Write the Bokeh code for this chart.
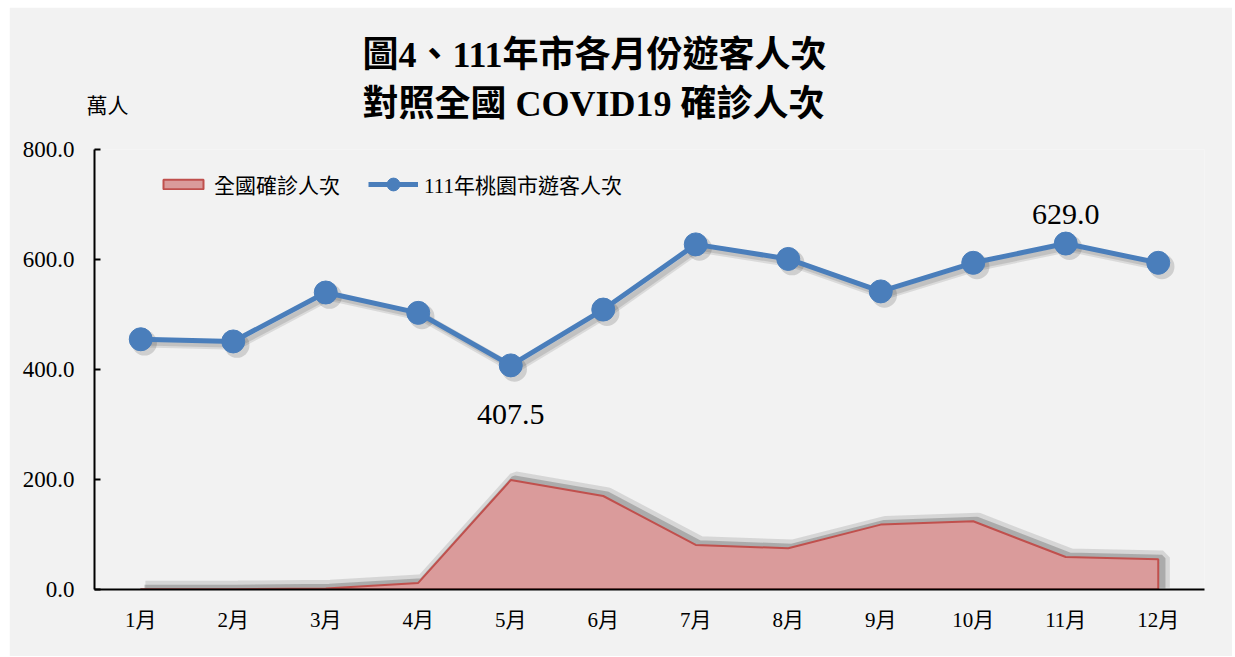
from bokeh.plotting import figure
from bokeh.models import (ColumnDataSource, FixedTicker, NumeralTickFormatter, Legend,
                          LegendItem, Title, LabelSet, Range1d)
from bokeh.embed import file_html
from bokeh.resources import INLINE

months = ["1月", "2月", "3月", "4月", "5月", "6月", "7月", "8月", "9月", "10月", "11月", "12月"]
visitors = [455.0, 451.0, 540.0, 503.0, 407.5, 509.0, 627.5, 601.0, 542.0, 594.0, 629.0, 594.0]
covid = [0.3, 0.5, 2.0, 12.0, 199.0, 170.0, 81.0, 75.0, 118.0, 124.0, 59.0, 55.0]
y_ticks = [0, 200, 400, 600, 800]

title_1 = "圖4、111年市各月份遊客人次"
title_2 = "對照全國 COVID19 確診人次"
unit_label = "萬人"
name_covid = "全國確診人次"
name_visit = "111年桃園市遊客人次"

SERIF = "Liberation Serif, Noto Sans CJK TC"
BG = "#f2f2f2"
BLUE = "#4a7ebb"
RED_LINE = "#c0504d"
RED_FILL = "#da9b9b"

x = list(range(1, len(months) + 1))

p = figure(width=1223, height=649, output_backend="svg", toolbar_location=None,
           x_range=Range1d(0.5, 12.5), y_range=Range1d(0, 800),
           min_border_left=85, min_border_right=28, min_border_top=142, min_border_bottom=67,
           background_fill_color=BG, border_fill_color=BG)
p.margin = (7, 3, 0, 9)
p.outline_line_color = None
p.grid.visible = False

# area shadow
ax = x + [x[-1]]
ay = covid + [0]
p.line([v + 0.05 for v in ax], [v + 3 for v in ay], line_color="#333333", line_alpha=0.14, line_width=14)
p.line([v + 0.04 for v in ax], [v + 2 for v in ay], line_color="#333333", line_alpha=0.26, line_width=7)

# area
area_r = p.patch(x + [x[-1], x[0]], covid + [0, 0], fill_color=RED_FILL, fill_alpha=1.0,
                 line_color=RED_LINE, line_width=2)

# blue line shadow
sx = [v + 0.04 for v in x]
sy = [v - 7 for v in visitors]
p.line(sx, sy, line_color="#333333", line_alpha=0.12, line_width=9)
p.line(sx, sy, line_color="#333333", line_alpha=0.15, line_width=5)
p.scatter(sx, sy, size=25, fill_color="#333333", fill_alpha=0.18, line_color=None)

line_r = p.line(x, visitors, line_color=BLUE, line_width=5)
circ_r = p.scatter(x, visitors, size=23, fill_color=BLUE, line_color=BLUE)

# data labels for min and max
i_min = visitors.index(min(visitors))
i_max = visitors.index(max(visitors))
lab_src = ColumnDataSource(dict(x=[x[i_min], x[i_max]],
                                y=[visitors[i_min], visitors[i_max]],
                                t=[f"{visitors[i_min]:.1f}", f"{visitors[i_max]:.1f}"],
                                off=[-59, 20]))
p.add_layout(LabelSet(x="x", y="y", text="t", y_offset="off", source=lab_src,
                      text_align="center", text_baseline="alphabetic",
                      text_font=SERIF, text_font_size="30px", text_color="#000000"))

# axes
p.xaxis.ticker = FixedTicker(ticks=x)
p.xaxis.major_label_overrides = {i: m for i, m in zip(x, months)}
p.xaxis.major_tick_in = 0
p.xaxis.major_tick_out = 0
p.xaxis.minor_tick_line_color = None
p.xaxis.axis_line_color = "#000000"
p.xaxis.axis_line_width = 2
p.xaxis.major_label_text_font = SERIF
p.xaxis.major_label_text_font_size = "21px"
p.xaxis.major_label_text_color = "#000000"
p.xaxis.major_label_standoff = 18

p.yaxis.ticker = FixedTicker(ticks=y_ticks)
p.yaxis.formatter = NumeralTickFormatter(format="0.0")
p.yaxis.major_tick_in = 6
p.yaxis.major_tick_out = 0
p.yaxis.major_tick_line_width = 2
p.yaxis.minor_tick_line_color = None
p.yaxis.axis_line_color = "#000000"
p.yaxis.axis_line_width = 2
p.yaxis.major_label_text_font = SERIF
p.yaxis.major_label_text_font_size = "23px"
p.yaxis.major_label_text_color = "#000000"
p.yaxis.major_label_standoff = 20

# titles (stacked above the frame; first added is nearest to the frame)
p.add_layout(Title(text=unit_label, align="left", offset=-8, standoff=64,
                   text_font=SERIF, text_font_size="21px", text_font_style="normal",
                   text_color="#000000"), "above")
p.add_layout(Title(text=title_2, align="left", offset=268, standoff=-129,
                   text_font=SERIF, text_font_size="36px", text_font_style="bold",
                   text_color="#000000"), "above")
p.add_layout(Title(text=title_1, align="left", offset=268, standoff=-31,
                   text_font=SERIF, text_font_size="36px", text_font_style="bold",
                   text_color="#000000"), "above")

leg_common = dict(orientation="horizontal", background_fill_alpha=0, border_line_color=None,
                  glyph_width=50, label_standoff=6, padding=4, margin=0,
                  label_text_font=SERIF, label_text_font_size="21px",
                  label_text_color="#000000")
legend1 = Legend(items=[LegendItem(label=name_covid, renderers=[area_r])],
                 location=(64, 390), glyph_height=12, **leg_common)
legend2 = Legend(items=[LegendItem(label=name_visit, renderers=[line_r, circ_r])],
                 location=(274, 389), glyph_height=32, **leg_common)
p.add_layout(legend1)
p.add_layout(legend2)

open("out.html", "w").write(file_html(p, INLINE))
